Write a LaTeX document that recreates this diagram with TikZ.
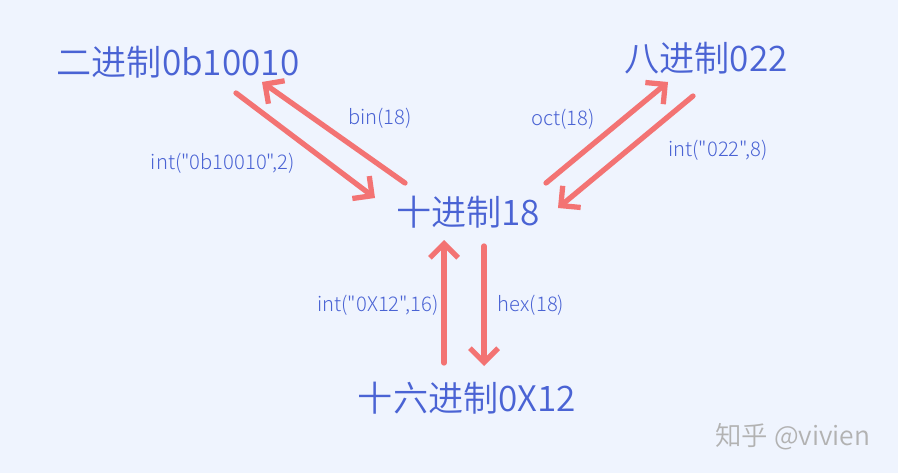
\documentclass[tikz,border=0pt]{standalone}
\usepackage{fontspec}
\usepackage{xcolor}
\usetikzlibrary{positioning, arrows.meta}
\newfontfamily\cjk{Noto Sans CJK SC DemiLight}
\newfontfamily\cjklight{Noto Sans CJK SC Light}
\definecolor{penblue}{HTML}{4A63D4}
\definecolor{penred}{HTML}{F37373}
\definecolor{paper}{HTML}{EFF4FE}
\tikzset{base/.style={text=penblue,font=\cjk\fontsize{20}{22}\selectfont,inner sep=0pt},
  fn/.style={text=penblue,font=\cjklight\fontsize{11.5}{13}\selectfont,inner sep=0pt},
  conv/.style={draw=penred,line width=3pt,line cap=round,-{Straight Barb[length=8pt,width=16pt,line width=3pt]}}}

\begin{document}
\begin{tikzpicture}[x=0.02cm,y=-0.02cm]
      \fill[paper] (0,0) rectangle (898,473);
      \useasboundingbox (0,0) rectangle (898,473);

      \node[base] (bin) at (178,62) {二进制0b10010};
      \node[base] (oct) at (706,58) {八进制022};
      \node[base] (dec) at (468,212) {十进制18};
      \node[base] (hex) at (467,398) {十六进制0X12};

      % binary <-> decimal
      \draw[conv] ([shift={(-63,-29)}]dec.center) -- ([shift={(84,20)}]bin.center);
      \draw[conv] ([shift={(58,31)}]bin.center) -- ([shift={(-93,-14)}]dec.center);
      \node[fn] (binfn) at (380,118) {bin(18)};
      \node[fn] (intbin) at (223,163) {int("0b10010",2)};

      % octal <-> decimal
      \draw[conv] ([shift={(78,-29)}]dec.center) -- ([shift={(-38,24)}]oct.center);
      \draw[conv] ([shift={(-13,38)}]oct.center) -- ([shift={(90,-4)}]dec.center);
      \node[fn] (octfn) at (563,119) {oct(18)};
      \node[fn] (intoct) at (718,150) {int("022",8)};

      % hexadecimal <-> decimal
      \draw[conv] ([shift={(-23,-35)}]hex.center) -- ([shift={(-24,28)}]dec.center);
      \draw[conv] ([shift={(16,34)}]dec.center) -- ([shift={(17,-32)}]hex.center);
      \node[fn] (inthex) at (378,305) {int("0X12",16)};
      \node[fn] (hexfn) at (531,305) {hex(18)};

      \node[text=black!30,font=\cjk\fontsize{15}{17}\selectfont,inner sep=0pt] (mark) at (793,437) {知乎 @vivien};
  \end{tikzpicture}
\end{document}
